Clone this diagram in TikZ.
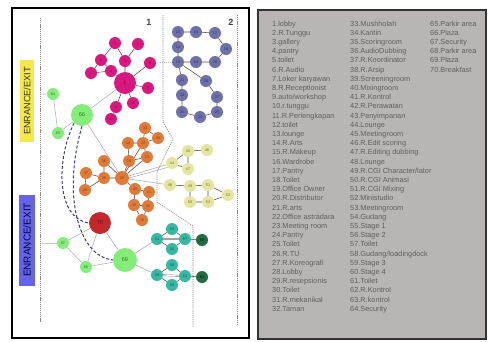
\documentclass[tikz,border=0pt]{standalone}
\usepackage{fontspec}
\setmainfont{Liberation Sans}
\pgfdeclarelayer{back}
\pgfdeclarelayer{bg}
\pgfsetlayers{back,bg,main}
\definecolor{mag}{HTML}{D8187E}
\definecolor{magt}{HTML}{8A0A4A}
\definecolor{blu}{HTML}{6E70A8}
\definecolor{blut}{HTML}{2A2C60}
\definecolor{org}{HTML}{E07A38}
\definecolor{orgt}{HTML}{8A3A0E}
\definecolor{yel}{HTML}{E4E6A0}
\definecolor{yelt}{HTML}{6A6A28}
\definecolor{tea}{HTML}{38B8A2}
\definecolor{teat}{HTML}{0E5E50}
\definecolor{dgr}{HTML}{1E6E44}
\definecolor{grn}{HTML}{84EC78}
\definecolor{grnt}{HTML}{2E7A28}
\definecolor{rd}{HTML}{C4282C}
\definecolor{edgec}{HTML}{5A4A40}
\definecolor{lgray}{HTML}{A8A8A8}
\definecolor{dashb}{HTML}{3A3C8A}
\definecolor{panel}{HTML}{B9B5B5}
\definecolor{ptext}{HTML}{625E5E}
\definecolor{entY}{HTML}{F4E84A}
\definecolor{entB}{HTML}{6464E6}
\begin{document}
\begin{tikzpicture}[x=1pt,y=-1pt,
  nd/.style={circle, inner sep=0pt, minimum size=12pt, font=\fontsize{3.8}{4}\selectfont},
  mg/.style={nd, fill=mag, text=magt},
  bl/.style={nd, fill=blu, text=blut},
  og/.style={nd, fill=org, text=orgt},
  yw/.style={nd, fill=yel, text=yelt},
  tl/.style={nd, fill=tea, text=teat},
  dg/.style={nd, fill=dgr, text=black},
  gn/.style={nd, fill=grn, text=grnt},
  big/.style={minimum size=22pt, font=\fontsize{5.5}{6}\selectfont},
  ed/.style={draw=edgec, line width=0.55pt},
  gl/.style={draw=lgray, line width=0.5pt},
  divider/.style={draw=gray!90, line width=0.6pt, dash pattern=on 1.2pt off 0.9pt},
  dashln/.style={draw=dashb, line width=1pt, dash pattern=on 3pt off 2pt},
  enbox/.style={minimum width=82pt, minimum height=14pt, inner sep=0pt, rotate=90, font=\fontsize{9.2}{10}\selectfont},
  listtxt/.style={anchor=north west, align=left, inner sep=0pt, text=ptext, font=\fontsize{7.35}{9.2}\selectfont}
]
\useasboundingbox (0,0) rectangle (488,341);
\begin{pgfonlayer}{back}
\fill[white] (0,0) rectangle (488,341);
\end{pgfonlayer}
% frames
\draw[black, line width=1.3pt] (12,8) rectangle (249,338);
\draw[fill=panel, draw=black!80, line width=1.2pt] (258,10) rectangle (486,339);

% dividers
\draw[divider] (40,18) -- (40,322);
\draw[divider] (163,15) -- (163,122) -- (173,139) -- (157,172) -- (157,202) -- (193,226) -- (193,327);
\draw[divider] (237,15) -- (237,325);
\node[font=\bfseries\fontsize{9}{10}\selectfont, text=black!75] (lab1) at (149,22) {1};
\node[font=\bfseries\fontsize{9}{10}\selectfont, text=black!75] (lab2) at (231,22) {2};

% entrances
\node[enbox, fill=entY, text=black!80] (entA) at (27,101) {ENRANCE/EXIT};
\node[enbox, fill=entB, text=blue!25!black, minimum width=91pt, minimum height=16pt, font=\fontsize{10}{11}\selectfont] (entB) at (27,240) {ENRANCE/EXIT};
\coordinate (e1) at (40,94);
\coordinate (e2) at (40,244);

% magenta
\node[mg, big] (m1) at (125,83) {1};
\node[mg] (m2) at (138,44) {2};
\node[mg] (m3) at (115,43) {3};
\node[mg] (m4) at (111,71) {4};
\node[mg] (m5) at (125,61) {5};
\node[mg] (m6) at (101,60) {6};
\node[mg] (m7) at (91,73) {7};
\node[mg] (m8) at (150,63) {8};
\node[mg] (m9) at (148,88) {9};
\node[mg] (m10) at (133,103) {10};
\node[mg] (m11) at (116,107) {11};
\node[mg] (m12) at (111,119) {12};

% blue
\node[bl] (b13) at (178,62) {13};
\node[bl] (b14) at (178,47) {14};
\node[bl] (b15) at (178,32) {15};
\node[bl] (b16) at (196,32) {16};
\node[bl] (b17) at (215,33) {17};
\node[bl] (b18) at (226,49) {18};
\node[bl] (b19) at (196,62) {19};
\node[bl] (b20) at (215,62) {20};
\node[bl] (b21) at (182,80) {21};
\node[bl] (b22) at (182,95) {22};
\node[bl] (b23) at (182,112) {23};
\node[bl] (b24) at (200,117) {24};
\node[bl] (b25) at (217,112) {25};
\node[bl] (b26) at (206,81) {26};
\node[bl] (b27) at (217,97) {27};

% orange
\node[og, minimum size=14pt] (o28) at (122,178) {28};
\node[og] (o29) at (129,161) {29};
\node[og] (o30) at (128,143) {30};
\node[og] (o31) at (147,157) {31};
\node[og] (o32) at (143,143) {32};
\node[og] (o33) at (145,128) {33};
\node[og] (o34) at (158,138) {34};
\node[og] (o35) at (142,220) {35};
\node[og] (o36) at (104,161) {36};
\node[og] (o37) at (86,173) {37};
\node[og] (o38) at (104,178) {38};
\node[og] (o39) at (85,190) {39};
\node[og] (o40) at (135,189) {40};
\node[og] (o41) at (149,192) {41};
\node[og] (o42) at (134,205) {42};
\node[og] (o43) at (148,206) {43};

% yellow
\node[yw] (y44) at (172,163) {44};
\node[yw] (y45) at (188,151) {45};
\node[yw] (y46) at (207,150) {46};
\node[yw] (y47) at (188,169) {47};
\node[yw] (y48) at (170,185) {48};
\node[yw] (y49) at (190,186) {49};
\node[yw] (y50) at (190,202) {50};
\node[yw] (y51) at (208,185) {51};
\node[yw] (y52) at (228,195) {52};
\node[yw] (y53) at (208,202) {53};

% teal
\node[tl] (t54) at (157,239) {54};
\node[tl] (t55) at (172,229) {55};
\node[tl] (t56) at (172,249) {56};
\node[tl] (t57) at (185,239) {57};
\node[dg] (t62) at (202,240) {62};
\node[tl] (t58) at (157,275) {58};
\node[tl] (t59) at (172,265) {59};
\node[tl] (t60) at (172,285) {60};
\node[tl] (t61) at (185,276) {61};
\node[dg] (t63) at (202,277) {63};

% green / red
\node[gn] (g64) at (53,94) {64};
\node[gn] (g65) at (58,133) {65};
\node[gn, big] (g66) at (82,115) {66};
\node[gn] (g67) at (63,243) {67};
\node[gn] (g68) at (86,267) {68};
\node[gn, big, minimum size=24pt] (g69) at (125,260) {69};
\node[nd, big, fill=rd, text=rd!50!black] (r70) at (100,223) {70};

\begin{pgfonlayer}{bg}
  % magenta edges
  \draw[ed] (m3) -- (m5) (m2) -- (m5) (m3) -- (m6) (m6) -- (m7) (m6) -- (m4) (m7) -- (m4)
            (m4) -- (m1) (m5) -- (m1) (m8) -- (m1) (m9) -- (m1) (m1) -- (m10) (m1) -- (m11) (m11) -- (m12);
  \draw[gl, dash pattern=on 1pt off 1pt] (m8) -- (b13);
  % blue edges
  \draw[ed] (b15) -- (b16) (b16) -- (b17) (b17) -- (b18) (b18) -- (b20) (b20) -- (b19) (b19) -- (b13)
            (b15) -- (b14) (b14) -- (b13) (b13) -- (b21) (b13) -- (b26) (b21) -- (b22) (b22) -- (b23)
            (b23) -- (b24) (b24) -- (b25) (b25) -- (b27) (b27) -- (b26);
  % orange edges
  \draw[ed] (o33) -- (o34) (o33) -- (o32) (o34) -- (o32) (o30) -- (o32) (o30) -- (o29) (o32) -- (o31)
            (o29) -- (o31) (o29) -- (o28) (o32) -- (o28) (o31) -- (o28) (o36) -- (o28) (o36) -- (o38)
            (o37) -- (o38) (o37) -- (o39) (o39) -- (o38) (o38) -- (o28) (o28) -- (o40) (o40) -- (o41)
            (o40) -- (o42) (o41) -- (o43) (o42) -- (o43) (o42) -- (o35) (o43) -- (o35);
  \draw[gl] (o28) -- (y44) (o28) -- (y48) (o28.east) -- (y44.south west);
  % yellow edges
  \draw[ed] (y44) -- (y45) (y45) -- (y46) (y44) -- (y47) (y45) -- (y47)
            (y48) -- (y49) (y49) -- (y51) (y49) -- (y50) (y51) -- (y53) (y51) -- (y52) (y52) -- (y53) (y50) -- (y53);
  % teal edges
  \draw[ed] (t54) -- (t55) (t54) -- (t56) (t55) -- (t57) (t56) -- (t57) (t57) -- (t62)
            (t58) -- (t59) (t58) -- (t60) (t59) -- (t61) (t60) -- (t61) (t61) -- (t63);
  \draw[draw=edgec!80, line width=0.4pt, double=white, double distance=0.8pt] (t54) -- (t57) (t58) -- (t61);
  \draw[gl] (g69) -- (t54) (g69) -- (t58);
  % green edges
  \draw[gl] (e1) -- (g64) (g64) -- (g65) (g65) -- (g66) (g66) -- (m1) (g66) -- (o28);
  \draw[gl] (e2) -- (g67) (g67) -- (r70) (g67) -- (g68) (g68) -- (r70) (r70) -- (g69) (g68) -- (g69);
  % dashed connections
  \draw[dashln] (g66.south west) .. controls (56,160) and (56,218) .. (r70.west);
  \draw[dashln] (g66.south) .. controls (62,195) and (78,256) .. (g69.west);
\end{pgfonlayer}

% list
\node[listtxt] (col1) at (272,20.5) {1.lobby\\2.R.Tunggu\\3.gallery\\4.pantry\\5.toilet\\6.R.Audio\\7.Loker karyawan\\8.R.Receptionist\\9.auto/workshop\\10.r.tunggu\\11.R.Perlengkapan\\12.toilet\\13.lounge\\14.R.Arts\\15.R.Makeup\\16.Wardrobe\\17.Pantry\\18.Toilet\\19.Office Owner\\20.R.Distributor\\21.R.arts\\22.Office astradara\\23.Meeting room\\24.Pantry\\25.Toilet\\26.R.TU\\27.R.Koreografi\\28.Lobby\\29.R.resepsionis\\30.Toilet\\31.R.mekanikal\\32.Taman};
\node[listtxt] (col2) at (350,20.5) {33.Mushholah\\34.Kantin\\35.Scoringroom\\36.AudioDubbing\\37.R.Koordinator\\38.R.Arsip\\39.Screeningroom\\40.Mixingroom\\41.R.Kontrol\\42.R.Perawatan\\43.Penyimpanan\\44.Lounge\\45.Meetingroom\\46.R.Edit scoring\\47.R.Editing dubbing\\48.Lounge\\49.R.CGI Character/lator\\50.R.CGI Animasi\\51.R.CGI Mixing\\52.Ministudio\\53.Meetingroom\\54.Gudang\\55.Stage 1\\56.Stage 2\\57.Toilet\\58.Gudang/loadingdock\\59.Stage 3\\60.Stage 4\\61.Toilet\\62.R.Kontrol\\63.R.kontrol\\64.Security};
\node[listtxt] (col3) at (430,20.5) {65.Parkir area\\66.Plaza\\67.Security\\68.Parkir area\\69.Plaza\\70.Breakfast};
\end{tikzpicture}
\end{document}
